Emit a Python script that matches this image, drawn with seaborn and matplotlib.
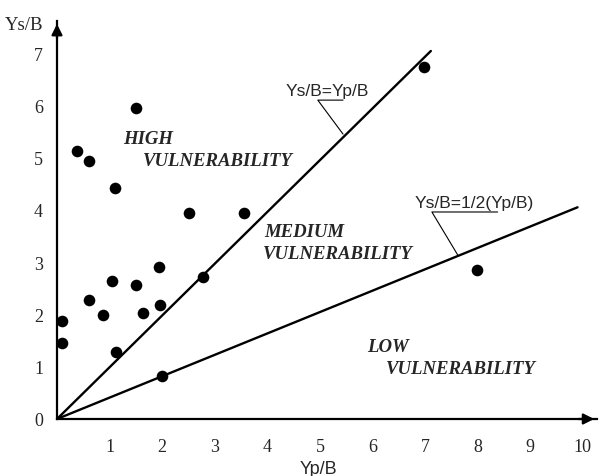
import matplotlib
matplotlib.use("Agg")
import matplotlib.pyplot as plt
import seaborn as sns
import numpy as np
import pandas as pd

# ---- data ----
pts_x = [0.10, 0.10, 0.38, 0.60, 1.10, 1.50, 0.61, 1.05, 0.87, 1.50,
         1.64, 1.94, 1.96, 2.51, 3.56, 1.12, 2.00, 2.78, 6.98, 7.98]
pts_y = [1.87, 1.45, 5.12, 4.93, 4.42, 5.95, 2.28, 2.64, 1.99, 2.56,
         2.03, 2.91, 2.18, 3.94, 3.94, 1.28, 0.82, 2.72, 6.73, 2.85]

upper_line_x = [0.0, 7.11]
upper_line_y = [0.0, 7.04]
lower_line_x = [0.0, 9.90]
lower_line_y = [0.0, 4.05]

x_tick_values = [1, 2, 3, 4, 5, 6, 7, 8, 9, 10]
y_tick_values = [0, 1, 2, 3, 4, 5, 6, 7]

upper_eq = "Ys/B=Yp/B"
lower_eq = "Ys/B=1/2(Yp/B)"
upper_leader_x = [5.44, 4.96, 5.44]
upper_leader_y = [6.10, 6.10, 5.45]
lower_leader_x = [8.38, 7.13, 7.62]
lower_leader_y = [3.96, 3.96, 3.14]

regions = ["HIGH", "VULNERABILITY", "MEDIUM", "VULNERABILITY", "LOW", "VULNERABILITY"]
region_x = [1.25, 1.63, 3.95, 3.92, 5.89, 6.25]
region_y = [5.37, 4.95, 3.58, 3.17, 1.38, 0.96]

# ---- figure ----
sns.set_style("white")
plt.rcParams['font.family'] = ['Liberation Serif', 'DejaVu Serif']

fig = plt.figure(figsize=(6.0, 4.77), dpi=100)
ax = fig.add_axes([0.095, 0.1195, 0.90, 0.834])

df = pd.DataFrame({"x": pts_x, "y": pts_y})
sns.scatterplot(data=df, x="x", y="y", ax=ax, color="black", s=70,
                edgecolor="black", linewidth=0, zorder=3, legend=False)

sns.lineplot(x=upper_line_x, y=upper_line_y, ax=ax, color="black", lw=1.7,
             estimator=None, sort=False)
sns.lineplot(x=lower_line_x, y=lower_line_y, ax=ax, color="black", lw=1.7,
             estimator=None, sort=False)

ax.plot(upper_leader_x, upper_leader_y, color="black", lw=0.8)
ax.plot(lower_leader_x, lower_leader_y, color="black", lw=0.8)

eq_font = dict(family=['Liberation Sans', 'DejaVu Sans'], fontsize=12.5)
ax.text(5.14, 6.29, upper_eq, ha="center", va="center", **eq_font)
ax.text(7.94, 4.15, lower_eq, ha="center", va="center", **eq_font)

for t, x, y in zip(regions, region_x, region_y):
    ax.text(x, y, t, ha="left", va="center", fontsize=13.5,
            fontweight="bold", fontstyle="italic",
            family=['Liberation Serif', 'DejaVu Serif'])

ax.set_xlim(0, 10.27)
ax.set_ylim(0, 7.61)

for s in ["top", "right"]:
    ax.spines[s].set_visible(False)
for s in ["left", "bottom"]:
    ax.spines[s].set_linewidth(1.6)
    ax.spines[s].set_color("black")

ax.set_xticks(x_tick_values)
ax.set_xticklabels([str(v) for v in x_tick_values])
ax.set_yticks(y_tick_values)
ax.set_yticklabels([str(v) for v in y_tick_values])
ax.set_xticks(np.arange(0.5, 10.01, 0.5), minor=True)
ax.set_yticks(np.arange(0.5, 7.01, 0.5), minor=True)
ax.tick_params(axis="both", which="both", direction="out", length=4,
               width=1.0, color="black", labelsize=13)
ax.tick_params(axis="x", which="major", pad=10)
ax.tick_params(axis="y", which="major", pad=6)
ax.tick_params(axis="both", which="minor", labelleft=False, labelbottom=False)
ax.set_xlabel("")
ax.set_ylabel("")

# axis arrowheads
ax.annotate("", xy=(1.0, 0.0), xytext=(0.96, 0.0), xycoords="axes fraction",
            arrowprops=dict(arrowstyle="-|>", color="black", lw=1.6,
                            mutation_scale=16), annotation_clip=False)
ax.annotate("", xy=(0.0, 1.0), xytext=(0.0, 0.95), xycoords="axes fraction",
            arrowprops=dict(arrowstyle="-|>", color="black", lw=1.6,
                            mutation_scale=16), annotation_clip=False)

fig.text(5 / 600, 1 - 25 / 477, "Ys/B", ha="left", va="center", fontsize=13.5,
         family=['Liberation Serif', 'DejaVu Serif'])
fig.text(318 / 600, 1 - 470 / 477, "Yp/B", ha="center", va="center",
         fontsize=13, family=['Liberation Sans', 'DejaVu Sans'])

fig.savefig("out.png", dpi=100)
